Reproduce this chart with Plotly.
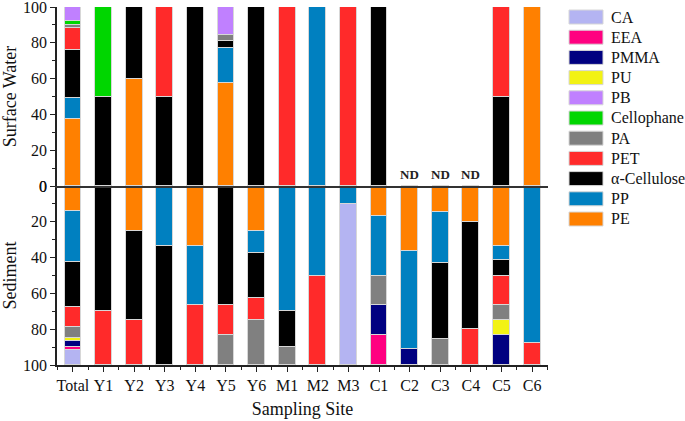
import plotly.graph_objects as go

sites = ["Total", "Y1", "Y2", "Y3", "Y4", "Y5", "Y6", "M1", "M2", "M3",
         "C1", "C2", "C3", "C4", "C5", "C6"]
nd_sites = ["C2", "C3", "C4"]

# stacking order (bottom -> top / near zero -> far)
polymers = ["PE", "PP", "α-Cellulose", "PET", "PA", "Cellophane", "PB", "PU", "PMMA", "EEA", "CA"]
colors = ["#ff8000", "#0080c0", "#000000", "#ff2a2a", "#808080", "#00d600",
          "#c080ff", "#f2f214", "#000080", "#ff0080", "#b4b4f2"]

# Surface water (%)
sw_PE         = [37.5, 0, 60, 0, 0, 57.5, 0, 0, 0, 0, 0, 0, 0, 0, 0, 100]
sw_PP         = [11.5, 0, 0, 0, 0, 19.5, 0, 0, 100, 0, 0, 0, 0, 0, 0, 0]
sw_cellulose  = [27, 50, 40, 50, 100, 4, 100, 0, 0, 0, 100, 0, 0, 0, 50, 0]
sw_PET        = [12, 0, 0, 50, 0, 0, 0, 100, 0, 100, 0, 0, 0, 0, 50, 0]
sw_PA         = [2, 0, 0, 0, 0, 3.5, 0, 0, 0, 0, 0, 0, 0, 0, 0, 0]
sw_cellophane = [2, 50, 0, 0, 0, 0, 0, 0, 0, 0, 0, 0, 0, 0, 0, 0]
sw_PB         = [8, 0, 0, 0, 0, 15.5, 0, 0, 0, 0, 0, 0, 0, 0, 0, 0]
sw_PU         = [0] * 16
sw_PMMA       = [0] * 16
sw_EEA        = [0] * 16
sw_CA         = [0] * 16

# Sediment (%)
sed_PE         = [14, 0, 25, 0, 33.3, 0, 25, 0, 0, 0, 16.7, 36.4, 14.3, 20, 33.3, 0]
sed_PP         = [28.5, 0, 0, 33.3, 33.3, 0, 12.5, 70, 50, 10, 33.3, 54.5, 28.6, 0, 8.3, 87.5]
sed_cellulose  = [25, 70, 50, 66.7, 0, 66.7, 25, 20, 0, 0, 0, 0, 42.8, 60, 8.4, 0]
sed_PET        = [11, 30, 25, 0, 33.4, 16.7, 12.5, 0, 50, 0, 0, 0, 0, 20, 16.7, 12.5]
sed_PA         = [6.5, 0, 0, 0, 0, 16.6, 25, 10, 0, 0, 16.7, 0, 14.3, 0, 8.3, 0]
sed_cellophane = [0] * 16
sed_PB         = [0] * 16
sed_PU         = [1.5, 0, 0, 0, 0, 0, 0, 0, 0, 0, 0, 0, 0, 0, 8.3, 0]
sed_PMMA       = [3.5, 0, 0, 0, 0, 0, 0, 0, 0, 0, 16.7, 9.1, 0, 0, 16.7, 0]
sed_EEA        = [1.5, 0, 0, 0, 0, 0, 0, 0, 0, 0, 16.6, 0, 0, 0, 0, 0]
sed_CA         = [8.5, 0, 0, 0, 0, 0, 0, 0, 0, 90, 0, 0, 0, 0, 0, 0]

sw_series = [sw_PE, sw_PP, sw_cellulose, sw_PET, sw_PA, sw_cellophane, sw_PB,
             sw_PU, sw_PMMA, sw_EEA, sw_CA]
sed_series = [sed_PE, sed_PP, sed_cellulose, sed_PET, sed_PA, sed_cellophane, sed_PB,
              sed_PU, sed_PMMA, sed_EEA, sed_CA]

FONT = "Liberation Serif"
W, H = 685, 421
ML, MR, MT, MB = 57, 137, 7, 56
PW, PH = W - ML - MR, H - MT - MB

xpos = list(range(len(sites)))
edge = dict(color="rgba(215,215,215,1)", width=1)

fig = go.Figure()
for name, col, sw, sed in zip(polymers, colors, sw_series, sed_series):
    fig.add_trace(go.Bar(x=xpos, y=sw, name=name, marker=dict(color=col, line=edge),
                         width=0.55, xaxis="x2", yaxis="y", showlegend=False))
    fig.add_trace(go.Bar(x=xpos, y=sed, name=name, marker=dict(color=col, line=edge),
                         width=0.55, xaxis="x", yaxis="y2", showlegend=False))

xr = [-0.52, len(sites) - 0.48]
common_y = dict(showline=True, linecolor="#222", linewidth=1.5, ticks="outside",
                ticklen=5, tickwidth=1.2, tickcolor="#222", showgrid=False, zeroline=False,
                automargin=False, ticklabeloverflow="allow",
                tickfont=dict(family=FONT, size=16, color="#111"),
                minor=dict(ticks="outside", ticklen=3, dtick=10, tickcolor="#222"),
                dtick=20)

fig.update_layout(
    width=W, height=H,
    margin=dict(l=ML, r=MR, t=MT, b=MB),
    paper_bgcolor="white", plot_bgcolor="white",
    barmode="stack", bargap=0, showlegend=False,
    font=dict(family=FONT, color="#111"),
    xaxis=dict(domain=[0, 1], anchor="y2", range=xr, tickvals=xpos, ticktext=sites,
               showline=True, linecolor="#222", linewidth=1.5, ticks="outside",
               ticklen=5, tickcolor="#222", showgrid=False, zeroline=False, automargin=False,
               ticklabeloverflow="allow",
               tickfont=dict(family=FONT, size=16, color="#111"),
               minor=dict(ticks="outside", ticklen=3, tick0=0.5, dtick=1, tickcolor="#222"),
               title=dict(text="Sampling Site", font=dict(family=FONT, size=18), standoff=9)),
    xaxis2=dict(domain=[0, 1], anchor="y", range=xr, matches="x", showticklabels=False,
                showline=True, linecolor="#333", linewidth=2, ticks="", showgrid=False,
                zeroline=False, automargin=False),
    yaxis=dict(domain=[0.5, 1], anchor="x2", range=[0, 100],
               title=dict(text="Surface Water", font=dict(family=FONT, size=18), standoff=5),
               **common_y),
    yaxis2=dict(domain=[0, 0.5], anchor="x", range=[100, 0],
                title=dict(text="Sediment", font=dict(family=FONT, size=18), standoff=5),
                **common_y),
)

# ND labels
for s in nd_sites:
    fig.add_annotation(x=sites.index(s), y=0, xref="x2", yref="y", text="<b>ND</b>",
                       showarrow=False, yanchor="bottom", yshift=2,
                       font=dict(family=FONT, size=13, color="#222"))

# Legend (built from the polymer / colour lists), CA on top, PE at bottom
leg_x0, leg_x1, leg_tx = 569, 603, 609
leg_y0, leg_step, sw_h = 17, 20.2, 14
for i, (name, col) in enumerate(zip(polymers[::-1], colors[::-1])):
    cy = leg_y0 + i * leg_step
    fig.add_shape(type="rect", xref="paper", yref="paper",
                  x0=(leg_x0 - ML) / PW, x1=(leg_x1 - ML) / PW,
                  y0=(H - MB - (cy + sw_h / 2)) / PH, y1=(H - MB - (cy - sw_h / 2)) / PH,
                  fillcolor=col, line=dict(color="rgba(215,215,215,1)", width=1))
    fig.add_annotation(xref="paper", yref="paper", x=(leg_tx - ML) / PW,
                       y=(H - MB - cy) / PH, text=name, showarrow=False,
                       xanchor="left", yanchor="middle",
                       font=dict(family=FONT, size=16, color="#111"))

fig.write_html("out.html", config={"displayModeBar": False},
               post_script="document.body.style.margin='0px';")
